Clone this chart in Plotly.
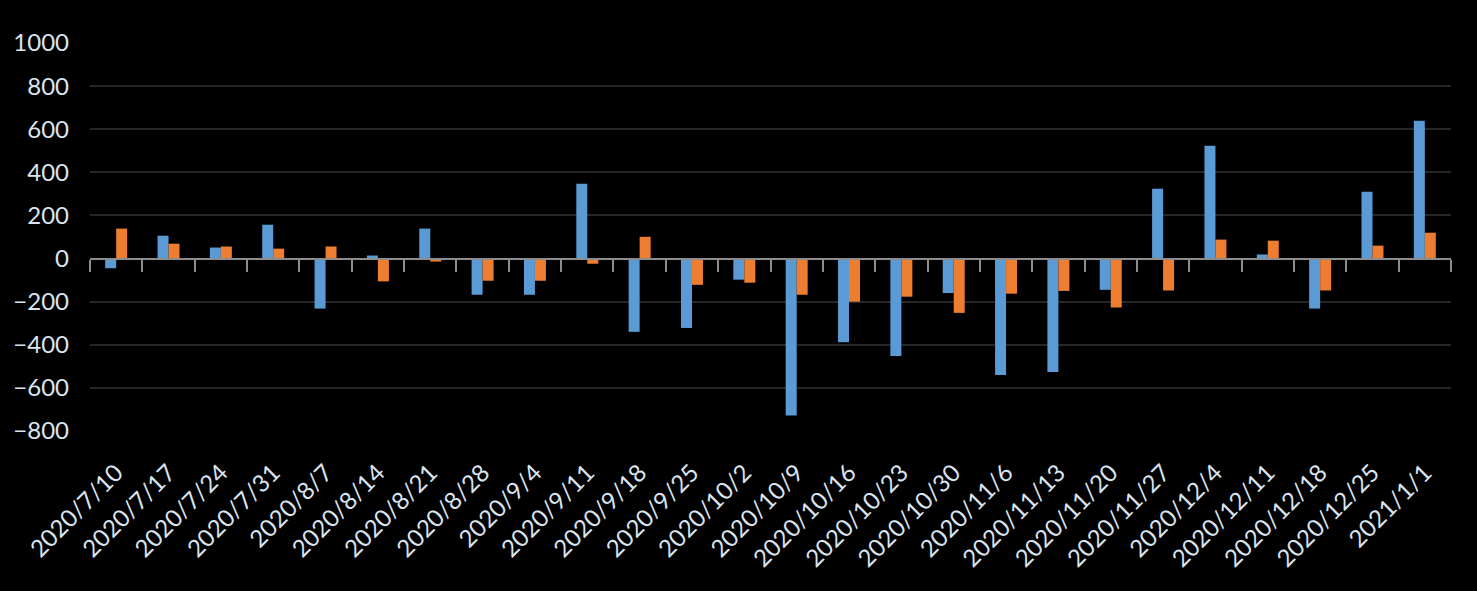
import plotly.graph_objects as go

categories = ["2020/7/10", "2020/7/17", "2020/7/24", "2020/7/31", "2020/8/7", "2020/8/14",
              "2020/8/21", "2020/8/28", "2020/9/4", "2020/9/11", "2020/9/18", "2020/9/25",
              "2020/10/2", "2020/10/9", "2020/10/16", "2020/10/23", "2020/10/30", "2020/11/6",
              "2020/11/13", "2020/11/20", "2020/11/27", "2020/12/4", "2020/12/11", "2020/12/18",
              "2020/12/25", "2021/1/1"]

series_blue = [-45, 106, 51, 157, -232, 14, 139, -168, -168, 347, -340, -322,
               -98, -728, -388, -452, -160, -540, -526, -145, 324, 523, 19, -232, 310, 639]
series_orange = [139, 69, 56, 46, 56, -106, -14, -103, -103, -24, 101, -122,
                 -112, -168, -200, -177, -252, -163, -150, -227, -148, 88, 83, -148, 60, 120]

y_ticks = [-800, -600, -400, -200, 0, 200, 400, 600, 800, 1000]
y_min, y_max = -800, 1000
x_range = [-0.5, len(categories) - 0.5]

font_family = "Lato, Carlito, 'Open Sans', sans-serif"
label_color = "#dbe4ee"

fig = go.Figure()
fig.add_trace(go.Bar(x=categories, y=series_blue, name="Series 1",
                     marker=dict(color="#5b9bd5", line=dict(width=0))))
fig.add_trace(go.Bar(x=categories, y=series_orange, name="Series 2",
                     marker=dict(color="#ed7d31", line=dict(width=0))))
# invisible trace so the overlaid category axis (at y = 0) carries the boundary ticks
fig.add_trace(go.Scatter(x=categories, y=[0] * len(categories), xaxis="x2", yaxis="y",
                         mode="markers", marker=dict(opacity=0, size=1), hoverinfo="skip",
                         showlegend=False))

fig.update_layout(
    width=1477, height=591,
    paper_bgcolor="black", plot_bgcolor="black",
    margin=dict(l=90, r=26, t=43, b=160),
    barmode="group", bargap=0.58, bargroupgap=0,
    showlegend=False,
    font=dict(family=font_family, size=24, color=label_color),
    xaxis=dict(
        type="category", categoryorder="array", categoryarray=categories,
        range=x_range, autorange=False,
        tickangle=-45, showgrid=False, showline=False, ticks="",
        ticklabelstandoff=22,
        tickfont=dict(family=font_family, size=24, color=label_color),
    ),
    xaxis2=dict(
        type="category", categoryorder="array", categoryarray=categories,
        overlaying="x", anchor="free",
        range=x_range, autorange=False,
        position=(0 - y_min) / (y_max - y_min),
        showline=True, linecolor="#8c8c8c", linewidth=2,
        ticks="outside", tickson="boundaries", ticklen=12, tickwidth=2,
        tickcolor="#8c8c8c", showticklabels=False, showgrid=False,
        layer="above traces",
    ),
    yaxis=dict(
        range=[y_min, y_max], tickvals=y_ticks,
        showgrid=True, gridcolor="#262626", gridwidth=2,
        zeroline=False, showline=False, ticks="",
        ticklabelstandoff=20,
        tickfont=dict(family=font_family, size=24, color=label_color),
    ),
)

fig.write_html(
    "out.html",
    config={"displayModeBar": False},
    post_script="document.body.style.margin='0';document.body.style.background='black';"
)
